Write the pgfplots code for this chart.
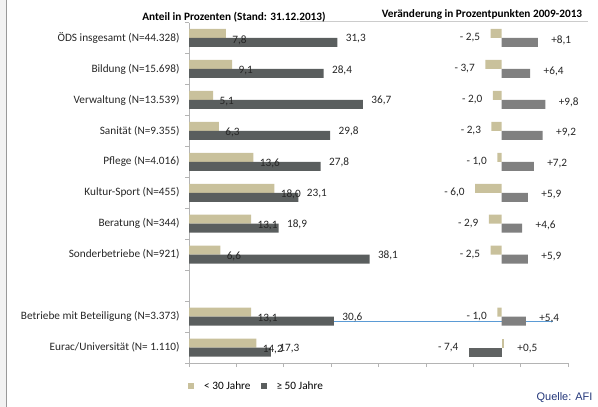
\documentclass[border=0pt]{standalone}
\usepackage{fontspec}
\setmainfont{Carlito}
\newfontfamily\arialfont{Liberation Sans}
\usepackage{pgfplots}
\pgfplotsset{compat=1.18}
\definecolor{beige}{HTML}{C9C19C}
\definecolor{dgray}{HTML}{5A5E5E}
\definecolor{mgray}{HTML}{808080}
\definecolor{egray}{HTML}{606363}
\definecolor{axgray}{HTML}{B4B4B4}
\definecolor{blueline}{HTML}{5B9BD5}
\definecolor{quelle}{HTML}{24377A}
\newcommand{\fs}{\fontsize{11.3}{13}\selectfont}
\begin{document}
\begin{tikzpicture}
\useasboundingbox (0bp,0bp) rectangle (598bp,407bp);
\fill[black!5] (0bp,0bp) rectangle (6bp,407bp);
\draw[black!40, line width=1.3bp] (6.8bp,0bp) -- (6.8bp,407bp);
\draw[black!20, line width=0.5bp] (300bp,385.5bp) -- (588bp,385.5bp);
\node[font=\fs\bfseries] at (234bp,390bp) {Anteil in Prozenten (Stand: 31.12.2013)};
\node[font=\fs\bfseries] at (482bp,392bp) {Veränderung in Prozentpunkten 2009-2013};
\node[anchor=east, font=\arialfont\fontsize{11}{13}\selectfont, text=quelle] at (596bp,9bp) {Quelle: AFI};
% left panel
\begin{axis}[
  at={(189bp,44bp)}, anchor=south west,
  scale only axis, width=379bp, height=340.5bp,
  xmin=0, xmax=80, ymin=-0.5, ymax=10.5, y dir=reverse,
  axis x line*=bottom, axis y line*=left,
  axis line style={axgray, line width=0.6bp},
  tick align=outside,
  xtick={0,10,...,80}, xticklabels={},
  major tick length=4bp, minor tick length=4bp,
  major x tick style={axgray, line width=0.6bp},
  ytick={0,1,2,3,4,5,6,7,9,10},
  yticklabels={ÖDS insgesamt (N=44.328), Bildung (N=15.698), Verwaltung (N=13.539), Sanität (N=9.355), Pflege (N=4.016), Kultur-Sport (N=455), Beratung (N=344), Sonderbetriebe (N=921), Betriebe mit Beteiligung (N=3.373), Eurac/Universität (N= 1.110)},
  major y tick style={draw=none},
  minor ytick={-0.5,0.5,...,10.5},
  minor y tick style={axgray, line width=0.6bp},
  yticklabel style={font=\fs, text=black!85, xshift=-2bp},
  legend style={at={(0,0)}, anchor=west, yshift=-23bp, xshift=-1bp, draw=none, fill=none, font=\fs, legend columns=2, column sep=8bp, inner sep=0pt},
  legend image code/.code={\fill[#1,draw=none] (0bp,-3bp) rectangle (6bp,3bp);},
  clip=false,
]
\addplot[blueline, line width=0.9bp, forget plot] coordinates {(0,9.145) (76.8,9.145)};
\addplot[xbar, bar width=9bp, bar shift=4.5bp, fill=beige, draw=none,
  point meta=explicit symbolic, nodes near coords,
  nodes near coords style={anchor=west, font=\fs, text=black!85, xshift=3bp, yshift=-2bp}]
  coordinates {(7.8,0)[7,8] (9.1,1)[9,1] (5.1,2)[5,1] (6.3,3)[6,3] (13.6,4)[13,6] (18.0,5)[18,0] (13.1,6)[13,1] (6.6,7)[6,6] (13.1,9)[13,1] (14.2,10)[14,2]};
\addlegendentry{< 30 Jahre}
\addplot[xbar, bar width=9bp, bar shift=-4.5bp, fill=dgray, draw=none,
  point meta=explicit symbolic, nodes near coords,
  nodes near coords style={anchor=west, font=\fs, text=black!85, xshift=5bp, yshift=-1bp}]
  coordinates {(31.3,0)[31,3] (28.4,1)[28,4] (36.7,2)[36,7] (29.8,3)[29,8] (27.8,4)[27,8] (23.1,5)[23,1] (18.9,6)[18,9] (38.1,7)[38,1] (30.6,9)[30,6] (17.3,10)[17,3]};
\addlegendentry{≥ 50 Jahre}
\end{axis}
% right panel
\begin{axis}[
  at={(189bp,44bp)}, anchor=south west,
  scale only axis, width=379bp, height=340.5bp,
  xmin=-70.3, xmax=14.9, ymin=-0.5, ymax=10.5, y dir=reverse,
  axis lines=none, clip=false,
]
\addplot[xbar, bar width=9bp, bar shift=4.5bp, fill=beige, draw=none,
  point meta=explicit symbolic, nodes near coords,
  nodes near coords style={anchor=east, font=\fs, text=black!85, xshift=-7bp}]
  coordinates {(-2.5,0)[- 2,5] (-3.7,1)[- 3,7] (-2.0,2)[- 2,0] (-2.3,3)[- 2,3] (-1.0,4)[- 1,0] (-6.0,5)[- 6,0] (-2.9,6)[- 2,9] (-2.5,7)[- 2,5] (-1.0,9)[- 1,0]};
\addplot[xbar, bar width=9bp, bar shift=4.5bp, fill=beige, draw=none,
  point meta=explicit symbolic, nodes near coords,
  nodes near coords style={anchor=west, font=\fs, text=black!85, xshift=10bp, yshift=-1bp}]
  coordinates {(0.5,10)[+0,5]};
\addplot[xbar, bar width=9bp, bar shift=-4.5bp, fill=mgray, draw=none,
  point meta=explicit symbolic, nodes near coords,
  nodes near coords style={anchor=west, font=\fs, text=black!85, xshift=10bp, yshift=-2bp}]
  coordinates {(8.1,0)[+8,1] (6.4,1)[+6,4] (9.8,2)[+9,8] (9.2,3)[+9,2] (7.2,4)[+7,2] (5.9,5)[+5,9] (4.6,6)[+4,6] (5.9,7)[+5,9] (5.4,9)[+5,4]};
\addplot[xbar, bar width=9bp, bar shift=-4.5bp, fill=egray, draw=none,
  point meta=explicit symbolic, nodes near coords,
  nodes near coords style={anchor=east, font=\fs, text=black!85, xshift=-7bp}]
  coordinates {(-7.4,10)[- 7,4]};
\end{axis}
\end{tikzpicture}
\end{document}
